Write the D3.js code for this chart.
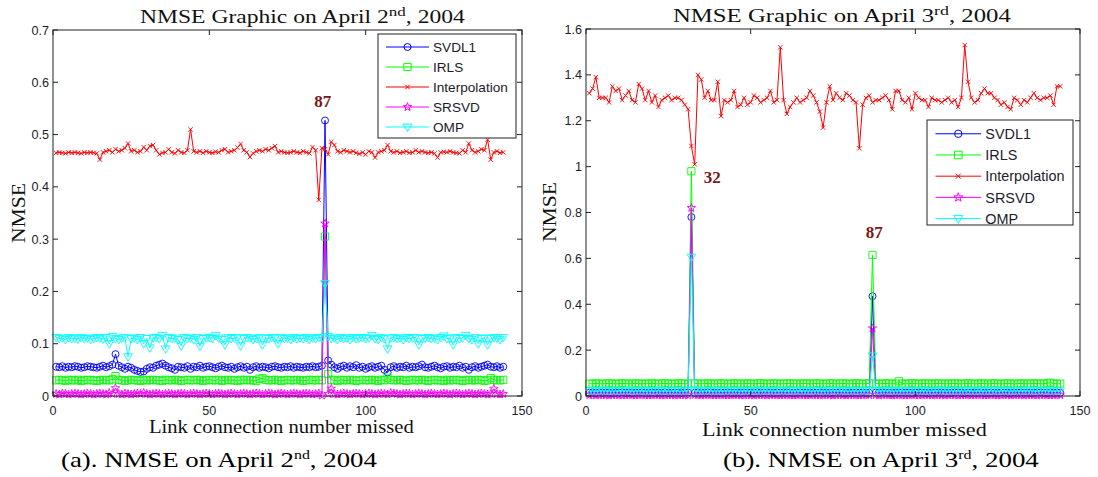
<!DOCTYPE html>
<html>
<head>
<meta charset="utf-8">
<script src="https://cdn.jsdelivr.net/npm/d3@7"></script>
<style>
  body { margin: 0; background: #fff; }
  svg { display: block; }
</style>
</head>
<body>
<svg id="chart" width="1098" height="477"></svg>
<script>
// ---- data ----
const linkIndex = d3.range(1, 145); // link connection number 1..144
const seriesNames = ['SVDL1', 'IRLS', 'Interpolation', 'SRSVD', 'OMP'];
const xTicks = [0, 50, 100, 150];
const apr2YTicks = [0, 0.1, 0.2, 0.3, 0.4, 0.5, 0.6, 0.7];
const apr3YTicks = [0, 0.2, 0.4, 0.6, 0.8, 1, 1.2, 1.4, 1.6];
const apr2Peaks = [{ label: '87', x: 86.3, y: 0.553 }];
const apr3Peaks = [{ label: '32', x: 38.3, y: 0.93 }, { label: '87', x: 87.5, y: 0.687 }];

// April 2nd
const apr2Svdl1 = [
  0.056,0.055,0.057,0.054,0.056,0.055,0.057,0.056,0.054,0.055,
  0.057,0.056,0.055,0.054,0.056,0.058,0.055,0.057,0.060,0.080,
  0.058,0.055,0.052,0.056,0.054,0.050,0.048,0.046,0.047,0.052,
  0.055,0.054,0.058,0.060,0.062,0.058,0.055,0.053,0.050,0.056,
  0.055,0.054,0.057,0.052,0.056,0.055,0.058,0.054,0.056,0.057,
  0.055,0.053,0.056,0.058,0.055,0.054,0.056,0.052,0.055,0.057,
  0.054,0.056,0.050,0.055,0.057,0.054,0.056,0.055,0.053,0.056,
  0.057,0.055,0.054,0.056,0.055,0.057,0.054,0.056,0.055,0.054,
  0.056,0.055,0.057,0.055,0.056,0.058,0.527,0.068,0.060,0.055,
  0.052,0.056,0.058,0.054,0.057,0.055,0.059,0.054,0.056,0.052,
  0.055,0.057,0.054,0.056,0.058,0.050,0.045,0.055,0.057,0.054,
  0.056,0.055,0.058,0.054,0.056,0.055,0.057,0.060,0.055,0.054,
  0.056,0.058,0.055,0.053,0.056,0.057,0.054,0.056,0.055,0.058,
  0.054,0.056,0.050,0.055,0.057,0.054,0.056,0.058,0.060,0.056,
  0.055,0.057,0.054,0.056
];
const apr2Irls = [
  0.030,0.031,0.030,0.029,0.031,0.030,0.030,0.031,0.029,0.030,
  0.031,0.030,0.030,0.029,0.030,0.031,0.030,0.030,0.032,0.038,
  0.031,0.030,0.029,0.030,0.031,0.030,0.030,0.029,0.031,0.030,
  0.030,0.031,0.030,0.030,0.029,0.031,0.030,0.030,0.031,0.030,
  0.029,0.030,0.031,0.030,0.030,0.031,0.030,0.029,0.030,0.031,
  0.030,0.030,0.031,0.029,0.030,0.031,0.030,0.030,0.029,0.031,
  0.030,0.031,0.030,0.030,0.029,0.033,0.034,0.031,0.030,0.030,
  0.031,0.030,0.029,0.030,0.031,0.030,0.030,0.031,0.030,0.029,
  0.030,0.031,0.030,0.030,0.031,0.030,0.305,0.042,0.031,0.030,
  0.029,0.031,0.030,0.030,0.031,0.030,0.029,0.030,0.031,0.030,
  0.030,0.031,0.030,0.029,0.031,0.030,0.035,0.031,0.030,0.030,
  0.031,0.030,0.029,0.030,0.031,0.030,0.030,0.031,0.030,0.029,
  0.030,0.031,0.030,0.030,0.029,0.031,0.030,0.030,0.031,0.030,
  0.029,0.030,0.031,0.030,0.030,0.031,0.030,0.029,0.030,0.034,
  0.031,0.030,0.030,0.031
];
const apr2Interp = [
  0.465,0.466,0.465,0.464,0.466,0.465,0.466,0.465,0.464,0.466,
  0.465,0.466,0.465,0.464,0.452,0.466,0.468,0.470,0.466,0.472,
  0.468,0.470,0.474,0.483,0.468,0.470,0.466,0.468,0.476,0.470,
  0.478,0.480,0.470,0.462,0.465,0.466,0.472,0.466,0.464,0.470,
  0.466,0.465,0.470,0.510,0.468,0.466,0.468,0.465,0.468,0.466,
  0.465,0.467,0.466,0.470,0.472,0.466,0.468,0.470,0.475,0.482,
  0.470,0.466,0.457,0.464,0.468,0.470,0.468,0.472,0.470,0.474,
  0.478,0.466,0.468,0.466,0.465,0.466,0.468,0.466,0.465,0.468,
  0.466,0.464,0.476,0.470,0.375,0.474,0.472,0.462,0.486,0.480,
  0.468,0.466,0.470,0.468,0.466,0.468,0.465,0.463,0.466,0.462,
  0.468,0.466,0.456,0.466,0.468,0.470,0.480,0.468,0.466,0.468,
  0.465,0.466,0.468,0.465,0.466,0.470,0.466,0.468,0.466,0.465,
  0.466,0.464,0.456,0.466,0.467,0.466,0.468,0.466,0.465,0.464,
  0.470,0.466,0.483,0.470,0.466,0.468,0.472,0.470,0.490,0.452,
  0.466,0.468,0.465,0.466
];
const apr2Srsvd = [
  0.004,0.003,0.005,0.004,0.003,0.004,0.005,0.004,0.003,0.004,
  0.005,0.004,0.003,0.004,0.005,0.004,0.003,0.006,0.004,0.015,
  0.004,0.003,0.005,0.004,0.003,0.004,0.005,0.004,0.006,0.004,
  0.003,0.004,0.005,0.004,0.003,0.004,0.005,0.004,0.003,0.004,
  0.005,0.004,0.003,0.004,0.005,0.004,0.003,0.004,0.005,0.004,
  0.003,0.004,0.005,0.004,0.003,0.004,0.005,0.004,0.003,0.004,
  0.005,0.004,0.003,0.004,0.005,0.004,0.003,0.004,0.005,0.004,
  0.003,0.004,0.005,0.004,0.003,0.004,0.005,0.004,0.003,0.004,
  0.005,0.004,0.003,0.004,0.005,0.001,0.330,0.004,0.014,0.004,
  0.003,0.004,0.005,0.004,0.003,0.004,0.005,0.004,0.003,0.004,
  0.005,0.004,0.003,0.004,0.005,0.004,0.003,0.006,0.005,0.004,
  0.003,0.004,0.005,0.004,0.003,0.004,0.005,0.004,0.003,0.004,
  0.005,0.004,0.003,0.004,0.005,0.004,0.003,0.004,0.005,0.004,
  0.003,0.004,0.005,0.004,0.003,0.004,0.005,0.004,0.003,0.004,
  0.014,0.004,0.003,0.004
];
const apr2Omp = [
  0.112,0.110,0.111,0.108,0.112,0.110,0.111,0.109,0.112,0.110,
  0.111,0.108,0.110,0.112,0.111,0.109,0.112,0.100,0.114,0.110,
  0.108,0.111,0.112,0.075,0.110,0.111,0.108,0.112,0.100,0.110,
  0.092,0.111,0.112,0.110,0.116,0.090,0.112,0.110,0.111,0.108,
  0.096,0.112,0.110,0.111,0.108,0.112,0.095,0.110,0.111,0.112,
  0.110,0.116,0.111,0.108,0.098,0.112,0.110,0.111,0.112,0.096,
  0.110,0.112,0.111,0.108,0.110,0.112,0.098,0.111,0.110,0.112,
  0.111,0.100,0.112,0.110,0.111,0.108,0.112,0.110,0.111,0.110,
  0.112,0.108,0.111,0.110,0.112,0.111,0.215,0.114,0.110,0.111,
  0.108,0.112,0.110,0.111,0.108,0.112,0.110,0.111,0.112,0.110,
  0.111,0.116,0.110,0.108,0.112,0.110,0.090,0.111,0.112,0.110,
  0.111,0.108,0.112,0.110,0.111,0.112,0.098,0.110,0.111,0.112,
  0.110,0.111,0.108,0.112,0.115,0.110,0.111,0.098,0.112,0.110,
  0.111,0.116,0.110,0.108,0.112,0.100,0.110,0.111,0.098,0.110,
  0.112,0.111,0.108,0.112
];

// April 3rd
const apr3Svdl1 = [
  0.014,0.015,0.013,0.016,0.014,0.015,0.014,0.013,0.015,0.014,
  0.016,0.014,0.015,0.013,0.014,0.015,0.016,0.014,0.013,0.015,
  0.014,0.015,0.014,0.016,0.013,0.014,0.015,0.014,0.013,0.016,
  0.015,0.780,0.014,0.015,0.013,0.014,0.016,0.015,0.014,0.013,
  0.015,0.014,0.016,0.014,0.013,0.015,0.014,0.015,0.016,0.014,
  0.013,0.015,0.014,0.016,0.015,0.014,0.013,0.015,0.014,0.016,
  0.014,0.015,0.013,0.014,0.016,0.015,0.014,0.013,0.015,0.014,
  0.016,0.014,0.015,0.013,0.014,0.015,0.016,0.014,0.013,0.015,
  0.014,0.015,0.014,0.016,0.013,0.014,0.435,0.015,0.014,0.016,
  0.015,0.014,0.013,0.015,0.014,0.016,0.014,0.015,0.013,0.014,
  0.016,0.015,0.014,0.013,0.015,0.014,0.016,0.014,0.015,0.013,
  0.014,0.015,0.016,0.014,0.013,0.015,0.014,0.015,0.014,0.016,
  0.013,0.014,0.015,0.014,0.013,0.016,0.015,0.014,0.013,0.015,
  0.014,0.016,0.014,0.015,0.013,0.014,0.015,0.016,0.014,0.013,
  0.015,0.014,0.015,0.014
];
const apr3Irls = [
  0.054,0.053,0.055,0.054,0.053,0.054,0.055,0.054,0.053,0.054,
  0.055,0.054,0.053,0.054,0.055,0.054,0.053,0.054,0.054,0.055,
  0.054,0.053,0.054,0.055,0.054,0.053,0.054,0.055,0.054,0.053,
  0.054,0.980,0.055,0.054,0.053,0.054,0.055,0.054,0.053,0.054,
  0.055,0.054,0.053,0.054,0.055,0.054,0.053,0.054,0.055,0.054,
  0.053,0.054,0.055,0.054,0.053,0.054,0.055,0.054,0.053,0.054,
  0.054,0.055,0.054,0.053,0.054,0.055,0.054,0.053,0.054,0.055,
  0.054,0.053,0.054,0.055,0.054,0.053,0.054,0.055,0.054,0.053,
  0.054,0.055,0.054,0.053,0.054,0.055,0.615,0.054,0.053,0.054,
  0.055,0.054,0.053,0.054,0.064,0.054,0.053,0.054,0.055,0.054,
  0.053,0.054,0.055,0.054,0.053,0.054,0.055,0.054,0.053,0.054,
  0.054,0.055,0.054,0.053,0.054,0.055,0.054,0.053,0.054,0.055,
  0.054,0.053,0.054,0.055,0.054,0.053,0.054,0.055,0.054,0.053,
  0.054,0.055,0.054,0.053,0.054,0.055,0.054,0.053,0.054,0.055,
  0.058,0.054,0.053,0.054
];
const apr3Interp = [
  1.32,1.34,1.39,1.30,1.30,1.30,1.28,1.35,1.33,1.34,
  1.29,1.31,1.33,1.29,1.28,1.36,1.34,1.29,1.33,1.28,
  1.31,1.26,1.29,1.30,1.31,1.29,1.30,1.30,1.29,1.27,
  1.25,1.09,1.01,1.40,1.38,1.30,1.33,1.29,1.29,1.37,
  1.22,1.29,1.28,1.29,1.33,1.26,1.27,1.30,1.27,1.28,
  1.31,1.30,1.28,1.29,1.30,1.33,1.28,1.29,1.52,1.29,
  1.23,1.26,1.28,1.30,1.28,1.29,1.30,1.33,1.31,1.28,
  1.24,1.17,1.28,1.35,1.29,1.32,1.30,1.29,1.32,1.31,
  1.29,1.28,1.08,1.27,1.30,1.31,1.28,1.29,1.29,1.30,
  1.31,1.29,1.25,1.33,1.33,1.29,1.28,1.30,1.25,1.32,
  1.30,1.29,1.29,1.26,1.30,1.29,1.29,1.28,1.29,1.30,
  1.28,1.29,1.26,1.30,1.53,1.37,1.30,1.28,1.29,1.32,
  1.34,1.32,1.32,1.30,1.29,1.27,1.28,1.26,1.25,1.30,
  1.29,1.27,1.29,1.28,1.30,1.32,1.30,1.29,1.30,1.30,
  1.31,1.27,1.35,1.35
];
const apr3Srsvd = [
  0.004,0.005,0.003,0.004,0.005,0.004,0.003,0.004,0.005,0.004,
  0.003,0.004,0.005,0.004,0.003,0.004,0.005,0.004,0.003,0.004,
  0.005,0.004,0.003,0.004,0.005,0.004,0.003,0.004,0.005,0.004,
  0.003,0.820,0.005,0.004,0.003,0.004,0.005,0.004,0.003,0.004,
  0.005,0.004,0.003,0.004,0.005,0.004,0.003,0.004,0.005,0.004,
  0.003,0.004,0.005,0.004,0.003,0.004,0.005,0.004,0.003,0.004,
  0.005,0.004,0.003,0.004,0.005,0.004,0.003,0.004,0.005,0.004,
  0.003,0.004,0.005,0.004,0.003,0.004,0.005,0.004,0.003,0.004,
  0.005,0.004,0.003,0.004,0.005,0.004,0.295,0.004,0.003,0.004,
  0.005,0.004,0.003,0.004,0.005,0.004,0.003,0.004,0.005,0.004,
  0.003,0.004,0.005,0.004,0.003,0.004,0.005,0.004,0.003,0.004,
  0.005,0.004,0.003,0.004,0.005,0.004,0.003,0.004,0.005,0.004,
  0.003,0.004,0.005,0.004,0.003,0.004,0.005,0.004,0.003,0.004,
  0.005,0.004,0.003,0.004,0.005,0.004,0.003,0.004,0.005,0.004,
  0.003,0.004,0.005,0.004
];
const apr3Omp = [
  0.022,0.023,0.021,0.022,0.024,0.022,0.021,0.023,0.022,0.021,
  0.023,0.022,0.024,0.021,0.022,0.023,0.022,0.021,0.023,0.022,
  0.021,0.024,0.022,0.023,0.021,0.022,0.023,0.022,0.021,0.022,
  0.023,0.605,0.022,0.021,0.023,0.022,0.024,0.021,0.022,0.023,
  0.022,0.021,0.023,0.022,0.024,0.022,0.021,0.023,0.022,0.021,
  0.023,0.022,0.021,0.024,0.022,0.023,0.021,0.022,0.023,0.022,
  0.021,0.023,0.022,0.024,0.021,0.022,0.023,0.022,0.021,0.023,
  0.022,0.021,0.023,0.022,0.024,0.022,0.021,0.023,0.022,0.021,
  0.023,0.022,0.021,0.024,0.022,0.023,0.175,0.022,0.021,0.023,
  0.022,0.024,0.021,0.022,0.023,0.022,0.021,0.023,0.022,0.024,
  0.021,0.022,0.023,0.022,0.021,0.023,0.022,0.024,0.021,0.022,
  0.023,0.022,0.021,0.023,0.022,0.024,0.022,0.021,0.023,0.022,
  0.021,0.023,0.022,0.024,0.021,0.022,0.023,0.022,0.021,0.023,
  0.022,0.021,0.023,0.022,0.024,0.022,0.021,0.023,0.022,0.024,
  0.022,0.021,0.023,0.022
];

// ---- styling ----
const seriesColors = ['#0000ff', '#00ff00', '#ff0000', '#ff00ff', '#00ffff'];
const seriesMarkers = ['circle', 'square', 'x', 'star', 'tri'];
const serif = '"Liberation Serif", "Times New Roman", serif';
const sans = '"Liberation Sans", Arial, sans-serif';
const axisColor = '#222';

function markerPath(type, s) {
  s = s || 1;
  if (type === 'circle') {
    const r = 3.5 * s;
    return `M${r},0A${r},${r} 0 1,1 ${-r},0A${r},${r} 0 1,1 ${r},0Z`;
  }
  if (type === 'square') {
    const h = 3.6 * s;
    return `M${-h},${-h}H${h}V${h}H${-h}Z`;
  }
  if (type === 'x') {
    const h = 2.3 * s;
    return `M${-h},${-h}L${h},${h}M${-h},${h}L${h},${-h}`;
  }
  if (type === 'star') {
    const pts = [];
    for (let k = 0; k < 10; k++) {
      const r = (k % 2 ? 1.8 : 4.4) * s;
      const a = -Math.PI / 2 + k * Math.PI / 5;
      pts.push([r * Math.cos(a), r * Math.sin(a)]);
    }
    return 'M' + pts.map(p => p[0].toFixed(2) + ',' + p[1].toFixed(2)).join('L') + 'Z';
  }
  // downward triangle
  const w = 4.3 * s;
  return `M${-w},${-3 * s}L${w},${-3 * s}L0,${4.5 * s}Z`;
}

const panels = [
  {
    x0: 53, x1: 522, yb: 396, yt: 30, yMax: 0.7, yTicks: apr2YTicks,
    values: [apr2Svdl1, apr2Irls, apr2Interp, apr2Srsvd, apr2Omp],
    peaks: apr2Peaks,
    title: ['NMSE Graphic on April 2', 'nd', ', 2004'], titleBox: [140, 465, 22.5],
    xLabelBox: [149, 414, 433], yLabel: { x: 24.5, cy: 213, len: 60 },
    caption: ['(a). NMSE on April 2', 'nd', ', 2004'], captionBox: [61, 377, 467],
    legend: { x: 378, y: 34, w: 138, h: 104, s: 1, font: 13.6 }
  },
  {
    x0: 586, x1: 1080, yb: 396, yt: 29, yMax: 1.6, yTicks: apr3YTicks,
    values: [apr3Svdl1, apr3Irls, apr3Interp, apr3Srsvd, apr3Omp],
    peaks: apr3Peaks,
    title: ['NMSE Graphic on April 3', 'rd', ', 2004'], titleBox: [673, 1011, 22],
    xLabelBox: [702, 987, 436], yLabel: { x: 556, cy: 212, len: 60 },
    caption: ['(b). NMSE on April 3', 'rd', ', 2004'], captionBox: [723, 1039, 467],
    legend: { x: 927, y: 120, w: 146, h: 105, s: 1.06, font: 14.4 }
  }
];

const svg = d3.select('#chart');

// stretch a text group horizontally so it fills [left, right]
function fitRow(g, left, right, baseline) {
  const bb = g.node().getBBox();
  const k = (right - left) / bb.width;
  g.attr('transform', `translate(${left - bb.x * k},${baseline}) scale(${k},1)`);
}

function supText(parent, parts, size, supSize, rise) {
  const t = parent.append('text')
    .attr('x', 0).attr('y', 0)
    .style('font-family', serif)
    .style('font-size', size + 'px')
    .attr('fill', '#111');
  t.append('tspan').text(parts[0]);
  t.append('tspan').attr('dy', -rise).style('font-size', supSize + 'px').text(parts[1]);
  t.append('tspan').attr('dy', rise).text(parts[2]);
  return t;
}

panels.forEach(p => {
  const x = d3.scaleLinear().domain([0, 150]).range([p.x0, p.x1]);
  const y = d3.scaleLinear().domain([0, p.yMax]).range([p.yb, p.yt]);
  const g = svg.append('g');

  // series: line then markers, in legend order
  p.values.forEach((vals, si) => {
    const pts = linkIndex.map((n, i) => [n, vals[i]]);
    g.append('path')
      .datum(pts)
      .attr('fill', 'none')
      .attr('stroke', seriesColors[si])
      .attr('stroke-width', 1)
      .attr('d', d3.line().x(d => x(d[0])).y(d => y(d[1])));
    g.append('g')
      .selectAll('path')
      .data(pts)
      .join('path')
      .attr('transform', d => `translate(${x(d[0])},${y(d[1])})`)
      .attr('d', markerPath(seriesMarkers[si], si === 2 ? 0.95 : 1))
      .attr('fill', 'none')
      .attr('stroke', seriesColors[si])
      .attr('stroke-width', 0.9);
  });

  // axes box with inward ticks on every side
  g.append('rect')
    .attr('x', p.x0).attr('y', p.yt)
    .attr('width', p.x1 - p.x0).attr('height', p.yb - p.yt)
    .attr('fill', 'none').attr('stroke', axisColor).attr('stroke-width', 1);

  const tl = 5;
  xTicks.forEach(v => {
    g.append('line').attr('x1', x(v)).attr('x2', x(v)).attr('y1', p.yb).attr('y2', p.yb - tl).attr('stroke', axisColor);
    g.append('line').attr('x1', x(v)).attr('x2', x(v)).attr('y1', p.yt).attr('y2', p.yt + tl).attr('stroke', axisColor);
    g.append('text')
      .attr('x', x(v)).attr('y', p.yb + 18.5)
      .attr('text-anchor', 'middle')
      .style('font-family', sans).style('font-size', '12.6px')
      .attr('fill', '#1c1c2c')
      .text(v);
  });
  p.yTicks.forEach(v => {
    g.append('line').attr('x1', p.x0).attr('x2', p.x0 + tl).attr('y1', y(v)).attr('y2', y(v)).attr('stroke', axisColor);
    g.append('line').attr('x1', p.x1).attr('x2', p.x1 - tl).attr('y1', y(v)).attr('y2', y(v)).attr('stroke', axisColor);
    g.append('text')
      .attr('x', p.x0 - 4).attr('y', y(v)).attr('dy', '0.36em')
      .attr('text-anchor', 'end')
      .style('font-family', sans).style('font-size', '12.6px')
      .attr('fill', '#1c1c2c')
      .text(d3.format('~g')(v));
  });

  // peak annotations
  p.peaks.forEach(a => {
    g.append('text')
      .attr('x', x(a.x)).attr('y', y(a.y))
      .attr('text-anchor', 'middle')
      .style('font-family', serif).style('font-size', '17px').style('font-weight', 'bold')
      .attr('fill', '#7b1616')
      .text(a.label);
  });

  // legend
  const L = p.legend;
  const lg = g.append('g');
  lg.append('rect')
    .attr('x', L.x).attr('y', L.y).attr('width', L.w).attr('height', L.h)
    .attr('fill', '#fff').attr('stroke', axisColor).attr('stroke-width', 1);
  seriesNames.forEach((name, si) => {
    const ry = L.y + 13 * L.s + si * 20 * L.s;
    const lx0 = L.x + 8 * L.s, lx1 = L.x + 51 * L.s;
    lg.append('line')
      .attr('x1', lx0).attr('x2', lx1).attr('y1', ry).attr('y2', ry)
      .attr('stroke', seriesColors[si]).attr('stroke-width', 1);
    lg.append('path')
      .attr('transform', `translate(${(lx0 + lx1) / 2},${ry})`)
      .attr('d', markerPath(seriesMarkers[si], L.s))
      .attr('fill', 'none').attr('stroke', seriesColors[si]);
    lg.append('text')
      .attr('x', L.x + 55 * L.s).attr('y', ry).attr('dy', '0.36em')
      .style('font-family', sans).style('font-size', L.font + 'px')
      .attr('fill', '#1c1c2c')
      .text(name);
  });

  // title
  const tg = svg.append('g');
  supText(tg, p.title, 18, 13, 7);
  fitRow(tg, p.titleBox[0], p.titleBox[1], p.titleBox[2]);

  // x label
  const xg = svg.append('g');
  xg.append('text').attr('x', 0).attr('y', 0)
    .style('font-family', serif).style('font-size', '18px').attr('fill', '#111')
    .text('Link connection number missed');
  fitRow(xg, p.xLabelBox[0], p.xLabelBox[1], p.xLabelBox[2]);

  // y label
  const yl = svg.append('text')
    .attr('text-anchor', 'middle')
    .style('font-family', serif).style('font-size', '19px').attr('fill', '#111')
    .text('NMSE');
  const k = p.yLabel.len / yl.node().getComputedTextLength();
  yl.attr('transform', `translate(${p.yLabel.x},${p.yLabel.cy}) rotate(-90) scale(${k},1)`);

  // caption
  const cg = svg.append('g');
  supText(cg, p.caption, 22, 13, 8).attr('fill', '#000');
  fitRow(cg, p.captionBox[0], p.captionBox[1], p.captionBox[2]);
});
</script>
</body>
</html>
